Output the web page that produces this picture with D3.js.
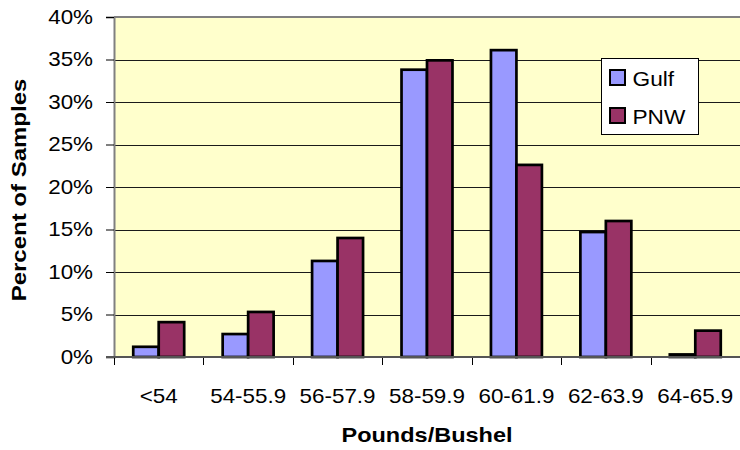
<!DOCTYPE html>
<html>
<head>
<meta charset="utf-8">
<script src="https://cdn.jsdelivr.net/npm/d3@7"></script>
<style>
  html, body { margin: 0; padding: 0; background: #ffffff; }
  svg { display: block; font-family: Arial, "Liberation Sans", sans-serif; }
</style>
</head>
<body>
<svg id="chart" width="740" height="450"></svg>
<script>
// Test weight distribution of samples by export region
const categories = ["<54", "54-55.9", "56-57.9", "58-59.9", "60-61.9", "62-63.9", "64-65.9"];
const seriesNames = ["Gulf", "PNW"];
const gulfValues = [0.012, 0.027, 0.113, 0.338, 0.361, 0.147, 0.003];
const pnwValues  = [0.041, 0.053, 0.140, 0.349, 0.226, 0.160, 0.031];
const yTicks = [0, 0.05, 0.10, 0.15, 0.20, 0.25, 0.30, 0.35, 0.40];
const seriesColors = ["#9999FF", "#993366"];

const plot = { left: 114, right: 740, top: 17, bottom: 357 };
const stretch = 1.12; // wide-set lettering

const svg = d3.select("#chart");

const x0 = d3.scaleBand().domain(categories).range([plot.left, plot.right]).padding(0);
const x1 = d3.scaleBand().domain(seriesNames).range([0, x0.bandwidth()])
  .paddingInner(0).paddingOuter(0.755);
const y = d3.scaleLinear().domain([0, 0.4]).range([plot.bottom, plot.top]);
const color = d3.scaleOrdinal().domain(seriesNames).range(seriesColors);

// plot background
svg.append("rect")
  .attr("x", plot.left).attr("y", plot.top)
  .attr("width", plot.right - plot.left).attr("height", plot.bottom - plot.top)
  .attr("fill", "#FFFFCC");

// horizontal gridlines
svg.append("g")
  .selectAll("line")
  .data(yTicks.filter(t => t > 0 && t < 0.4))
  .join("line")
  .attr("x1", plot.left).attr("x2", plot.right)
  .attr("y1", d => Math.round(y(d)) + 0.5).attr("y2", d => Math.round(y(d)) + 0.5)
  .attr("stroke", "#1a1a1a").attr("stroke-width", 1);

// top border
svg.append("line")
  .attr("x1", plot.left).attr("x2", plot.right)
  .attr("y1", plot.top).attr("y2", plot.top)
  .attr("stroke", "#808080").attr("stroke-width", 2);

// bars
const rows = categories.map((c, i) => ({ cat: c, vals: [gulfValues[i], pnwValues[i]] }));
svg.append("g")
  .selectAll("g")
  .data(rows)
  .join("g")
  .attr("transform", d => `translate(${x0(d.cat)},0)`)
  .selectAll("rect")
  .data(d => seriesNames.map((s, k) => ({ s, v: d.vals[k] })))
  .join("rect")
  .attr("x", d => x1(d.s))
  .attr("y", d => y(d.v))
  .attr("width", x1.bandwidth())
  .attr("height", d => y(0) - y(d.v))
  .attr("fill", d => color(d.s))
  .attr("stroke", "#000")
  .attr("stroke-width", 2.7)
  .attr("stroke-linejoin", "miter");

// y axis
const yAxis = svg.append("g")
  .attr("transform", `translate(${plot.left},0)`)
  .call(d3.axisLeft(y).tickValues(yTicks).tickFormat(d3.format(".0%")).tickSize(8).tickPadding(13));
yAxis.select(".domain").attr("stroke", "#808080").attr("stroke-width", 2);
yAxis.selectAll(".tick line").attr("stroke", "#000").attr("stroke-width", 1);
yAxis.selectAll(".tick text")
  .attr("font-size", 20).attr("fill", "#000")
  .attr("font-family", "Arial, 'Liberation Sans', sans-serif")
  .attr("x", -21 / stretch)
  .attr("transform", `scale(${stretch},1)`);

// x axis
const xAxis = svg.append("g")
  .attr("transform", `translate(0,${plot.bottom})`)
  .call(d3.axisBottom(x0).tickSize(0).tickPadding(0));
xAxis.select(".domain").remove();
xAxis.selectAll(".tick text")
  .attr("font-size", 20).attr("fill", "#000")
  .attr("font-family", "Arial, 'Liberation Sans', sans-serif")
  .attr("dy", null).attr("y", 46)
  .attr("transform", `scale(${stretch},1)`)
  .attr("x", 0);
xAxis.selectAll(".tick").each(function(d) {
  const cx = x0(d) + x0.bandwidth() / 2;
  d3.select(this).attr("transform", `translate(${cx},0)`);
});
// category separator ticks
svg.append("g")
  .selectAll("line")
  .data(categories.map(c => x0(c)).concat([plot.right]))
  .join("line")
  .attr("x1", d => Math.round(d) + 0.5).attr("x2", d => Math.round(d) + 0.5)
  .attr("y1", plot.bottom).attr("y2", plot.bottom + 8)
  .attr("stroke", "#000").attr("stroke-width", 1);
// baseline
svg.append("line")
  .attr("x1", plot.left - 8).attr("x2", plot.right)
  .attr("y1", plot.bottom).attr("y2", plot.bottom)
  .attr("stroke", "#555").attr("stroke-width", 2);

// axis titles
svg.append("text")
  .attr("transform", `translate(${(plot.left + plot.right) / 2},442) scale(${stretch},1)`)
  .attr("text-anchor", "middle")
  .attr("font-size", 21).attr("font-weight", "bold").attr("fill", "#000")
  .text("Pounds/Bushel");

svg.append("text")
  .attr("transform", `translate(26,${(plot.top + plot.bottom) / 2 + 3}) rotate(-90) scale(1.2,1)`)
  .attr("text-anchor", "middle")
  .attr("font-size", 20).attr("font-weight", "bold").attr("fill", "#000")
  .text("Percent of Samples");

// legend
const legend = svg.append("g").attr("transform", "translate(601.5,58.5)");
legend.append("rect")
  .attr("width", 97).attr("height", 76)
  .attr("fill", "#fff").attr("stroke", "#000").attr("stroke-width", 1);
const items = legend.selectAll("g.item")
  .data(seriesNames)
  .join("g")
  .attr("class", "item")
  .attr("transform", (d, i) => `translate(0,${i * 38})`);
items.append("rect")
  .attr("x", 8.5).attr("y", 11.5)
  .attr("width", 15).attr("height", 15)
  .attr("fill", d => color(d))
  .attr("stroke", "#000").attr("stroke-width", 2);
items.append("text")
  .attr("transform", `translate(31,27.5) scale(1.08,1)`)
  .attr("font-size", 21).attr("fill", "#000")
  .text(d => d);
</script>
</body>
</html>
